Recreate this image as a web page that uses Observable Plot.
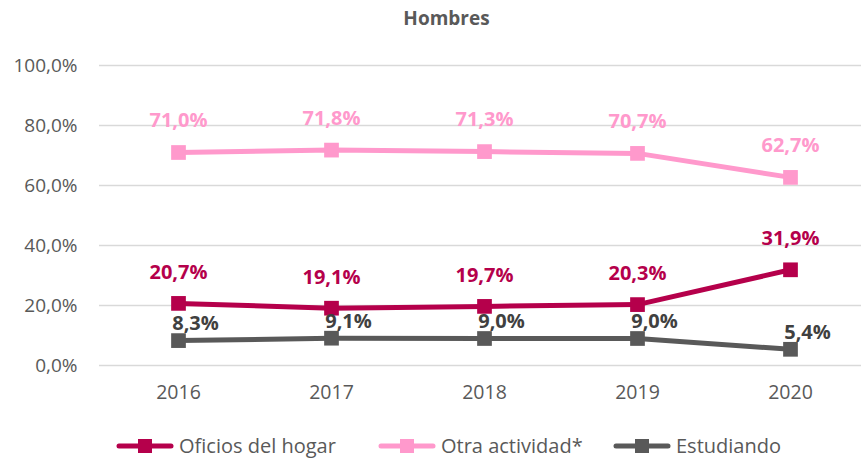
<!DOCTYPE html>
<html>
<head>
<meta charset="utf-8">
<script src="https://cdn.jsdelivr.net/npm/d3@7"></script>
<script src="https://cdn.jsdelivr.net/npm/@observablehq/plot@0.6"></script>
<style>
  html, body { margin: 0; padding: 0; background: #fff; }
  #wrap { position: relative; width: 861px; height: 459px; font-family: "Open Sans", "Noto Sans", sans-serif; }
  #title { position: absolute; top: 5px; left: 0; width: 893px; text-align: center; font-weight: bold; font-size: 19px; color: #595959; }
  #legend { position: absolute; top: 0; left: 0; width: 861px; height: 459px; font-size: 20px; color: #595959; }
  .item { position: absolute; top: 432px; display: flex; align-items: center; white-space: nowrap; }
  .item svg { margin-right: 5px; }
</style>
</head>
<body>
<div id="wrap">
  <div id="chart"></div>
  <div id="title">Hombres</div>
  <div id="legend"></div>
</div>
<script>
const years = [2016, 2017, 2018, 2019, 2020];
const seriesNames = ["Oficios del hogar", "Otra actividad*", "Estudiando"];
const oficios = [20.7, 19.1, 19.7, 20.3, 31.9];
const otra = [71.0, 71.8, 71.3, 70.7, 62.7];
const estudiando = [8.3, 9.1, 9.0, 9.0, 5.4];
const yTicks = [0, 20, 40, 60, 80, 100];
const colors = ["#B5004B", "#FF99CC", "#595959"];
const labelColors = ["#B5004B", "#FF99CC", "#404040"];

const fmt = v => v.toFixed(1).replace(".", ",") + "%";
const mk = (vals, s) => vals.map((v, i) => ({year: years[i], value: v, series: s}));
const dOf = mk(oficios, seriesNames[0]);
const dOt = mk(otra, seriesNames[1]);
const dEs = mk(estudiando, seriesNames[2]);

const lineFor = (d, c) => [
  Plot.line(d, {x: "year", y: "value", stroke: c, strokeWidth: 5}),
  Plot.dot(d, {x: "year", y: "value", symbol: "square", r: 8.3, fill: c, stroke: "none"})
];
const labelFor = (d, c, dx, dy) => Plot.text(d, {
  x: "year", y: "value", text: dd => fmt(dd.value), fill: c, dx, dy,
  fontSize: 20, fontWeight: "bold"
});

const chart = Plot.plot({
  width: 861,
  height: 459,
  marginTop: 65,
  marginBottom: 94,
  marginLeft: 99,
  marginRight: 0,
  style: {fontFamily: "'Open Sans', 'Noto Sans', sans-serif", background: "transparent"},
  x: {type: "point", domain: years, range: [99, 868], padding: 0.5},
  y: {domain: [0, 100], range: [365, 65]},
  marks: [
    Plot.ruleY(yTicks, {stroke: "#d9d9d9", strokeWidth: 1.5}),
    Plot.axisY({ticks: yTicks, tickSize: 0, tickPadding: 22, tickFormat: fmt, fontSize: 19, color: "#595959", label: null}),
    Plot.axisX({ticks: years, tickSize: 0, tickPadding: 20, tickFormat: d => String(d), fontSize: 19.5, color: "#595959", label: null}),
    ...lineFor(dOt, colors[1]),
    ...lineFor(dOf, colors[0]),
    ...lineFor(dEs, colors[2]),
    labelFor(dOt, labelColors[1], 0, -32),
    labelFor(dOf, labelColors[0], 0, -31),
    labelFor(dEs, labelColors[2], 17, -17)
  ]
});
document.getElementById("chart").appendChild(chart);

const legend = document.getElementById("legend");
const lefts = [116, 378, 613];
seriesNames.forEach((name, i) => {
  const item = document.createElement("div");
  item.className = "item";
  item.style.left = lefts[i] + "px";
  item.innerHTML = `<svg width="58" height="20"><line x1="3" x2="55" y1="10" y2="10" stroke="${colors[i]}" stroke-width="5" stroke-linecap="round"/><rect x="22" y="3" width="14" height="14" fill="${colors[i]}"/></svg><span>${name}</span>`;
  legend.appendChild(item);
});
</script>
</body>
</html>
